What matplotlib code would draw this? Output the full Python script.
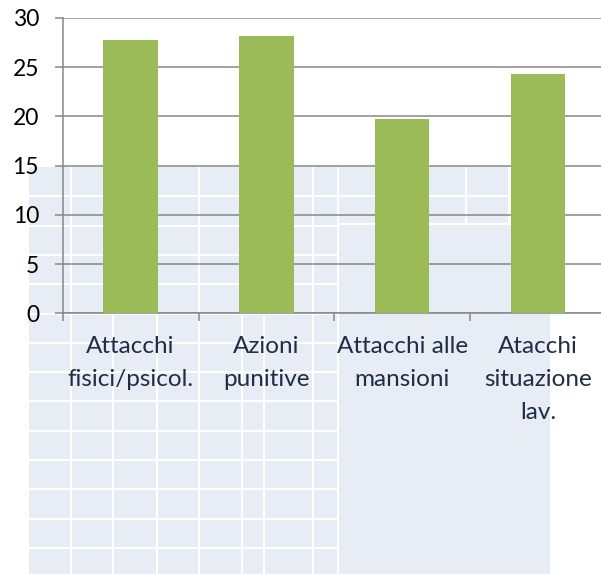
import numpy as np
import matplotlib.pyplot as plt
from matplotlib.patches import Rectangle

plt.rcParams['font.family'] = ['Lato', 'DejaVu Sans']

categories = ['Attacchi\nfisici/psicol.', 'Azioni\npunitive', 'Attacchi alle\nmansioni', 'Atacchi\nsituazione\nlav.']
values = [27.8, 28.2, 19.7, 24.3]
yticks = [0, 5, 10, 15, 20, 25, 30]

W, H = 601, 574
fig = plt.figure(figsize=(W / 100, H / 100), dpi=100)

# decorative table patch behind the chart (pixel coordinates)
bg = fig.add_axes([0, 0, 1, 1], zorder=0)
bg.set_xlim(0, W)
bg.set_ylim(H, 0)
bg.axis('off')
cell = '#e8ecf4'
white_lw = 1.5
bg.add_patch(Rectangle((29, 167), 338 - 29, H - 167, color=cell, lw=0))
bg.add_patch(Rectangle((338, 167), 510 - 338, 224 - 167, color=cell, lw=0))
bg.add_patch(Rectangle((338, 224), 550 - 338, H - 224, color=cell, lw=0))
for x in [71, 113, 157, 199, 242, 264, 313, 338]:
    bg.plot([x, x], [167, H], color='white', lw=white_lw)
for x in [466, 509]:
    bg.plot([x, x], [167, 224], color='white', lw=white_lw)
for y in np.arange(167 + 29.3, H, 29.3):
    bg.plot([29, 338], [y, y], color='white', lw=white_lw)
for y in [195.6, 224.4]:
    bg.plot([338, 510], [y, y], color='white', lw=white_lw)

# main chart
left, right = 62.7 / W, 606 / W
bottom, top = (H - 313.3) / H, (H - 18) / H
ax = fig.add_axes([left, bottom, right - left, top - bottom], zorder=1)
ax.patch.set_alpha(0)

x = np.arange(len(values))
ax.bar(x, values, width=0.4, color='#9bbb59', zorder=3)

ax.set_xlim(-0.5, len(values) - 0.5)
ax.set_ylim(0, 30)
ax.set_yticks(yticks)
ax.yaxis.grid(True, color='#878787', lw=1.1, zorder=0)
ax.set_axisbelow(True)

for s in ['top', 'right']:
    ax.spines[s].set_visible(False)
for s in ['left', 'bottom']:
    ax.spines[s].set_color('#878787')
    ax.spines[s].set_linewidth(1.1)

ax.tick_params(axis='y', length=6, color='#878787', width=1.1, pad=11,
               labelsize=16.5, labelcolor='black')
ax.set_xticks(x)
ax.set_xticklabels(categories, fontsize=17.5, color='#1f2d46', linespacing=1.72)
ax.set_xticks(np.arange(-0.5, len(values), 1), minor=True)
ax.tick_params(axis='x', which='major', length=0, pad=16)
ax.tick_params(axis='x', which='minor', length=6, color='#878787', width=1.1)

fig.savefig('out.png', dpi=100)
